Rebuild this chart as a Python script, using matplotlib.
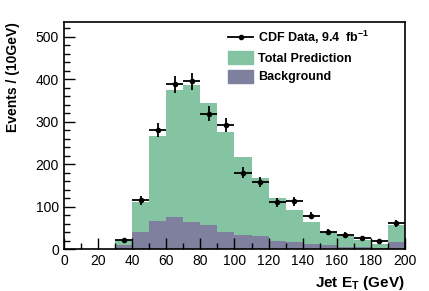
import matplotlib
matplotlib.use("Agg")
import matplotlib.pyplot as plt
import numpy as np
from matplotlib.patches import Patch
from matplotlib.lines import Line2D

plt.rcParams['font.family'] = ['Liberation Sans', 'DejaVu Sans']

# bin edges (GeV)
edges = [30, 40, 50, 60, 70, 80, 90, 100, 110, 120, 130, 140, 150, 160, 170, 180, 190, 200]
total_pred = [22, 112, 266, 374, 387, 344, 276, 216, 168, 120, 91, 65, 41, 30, 22, 12, 56]
background = [10, 41, 67, 75, 64, 57, 41, 34, 31, 20, 16, 12, 9, 6, 5, 3, 16]
data_x = [35, 45, 55, 65, 75, 85, 95, 105, 115, 125, 135, 145, 155, 165, 175, 185, 195]
data_y = [22, 115, 280, 388, 396, 319, 293, 180, 158, 110, 113, 79, 41, 34, 26, 18, 61]

green = '#84c4a2'
purple = '#7f7f9e'

fig = plt.figure(figsize=(4.29, 2.91), dpi=100)
ax = fig.add_axes([0.149, 0.144, 0.795, 0.78])

ax.stairs(total_pred, edges, fill=True, color=green, linewidth=0)
ax.stairs(background, edges, fill=True, color=purple, linewidth=0)

yerr = np.sqrt(data_y)
ax.errorbar(data_x, data_y, xerr=5, yerr=yerr, fmt='o', color='black',
            ms=3, elinewidth=1.3, capsize=0)

ax.set_xlim(0, 200)
ax.set_ylim(0, 535)
ax.set_xticks(range(0, 201, 20))
ax.set_xticks(range(0, 201, 10), minor=True)
ax.set_yticks(range(0, 501, 100))
ax.set_yticks(range(0, 535, 20), minor=True)
ax.tick_params(which='both', direction='in', top=False, right=False, labelsize=10)
ax.tick_params(which='major', length=8, width=1)
ax.tick_params(which='minor', length=4, width=1)
for s in ax.spines.values():
    s.set_linewidth(1.2)

ax.set_xlabel('Jet E$_\\mathregular{T}$ (GeV)', fontsize=11, fontweight='bold', ha='right', x=1.0)
ax.set_ylabel('Events / (10GeV)', fontsize=10, fontweight='bold', ha='right', y=1.0)
ax.yaxis.set_label_coords(-0.13, 1.0)

handles = [
    Line2D([0], [0], color='black', marker='o', ms=3, lw=1.3),
    Patch(color=green),
    Patch(color=purple),
]
labels = ['CDF Data, 9.4  fb$^{\\mathregular{-1}}$', 'Total Prediction', 'Background']
fig.legend(handles, labels, loc='upper left', bbox_to_anchor=(228 / 429, 1 - 29 / 291),
           frameon=False, prop={'weight': 'bold', 'size': 9}, borderpad=0, borderaxespad=0,
           handlelength=2.0, handleheight=1.2, handletextpad=0.4, labelspacing=0.4)

fig.savefig('out.png', dpi=100)
